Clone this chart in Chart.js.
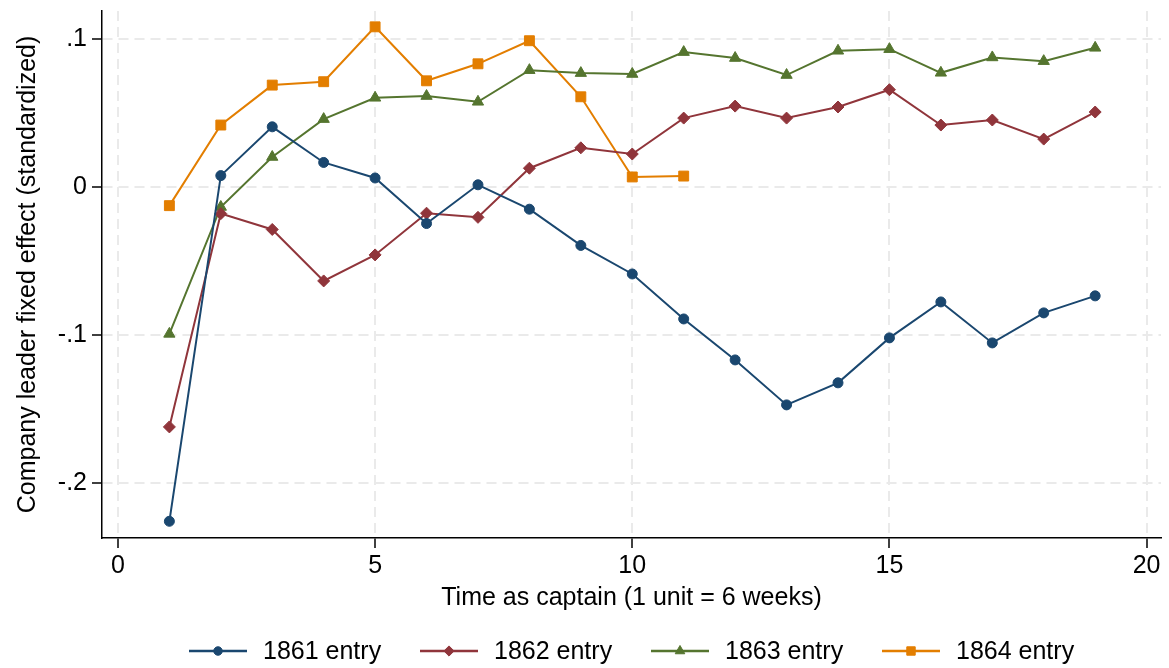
<!DOCTYPE html>
<html>
<head>
<meta charset="utf-8">
<script src="https://cdn.jsdelivr.net/npm/chart.js@4/dist/chart.umd.min.js"></script>
<style>
  html, body { margin: 0; padding: 0; background: #fff; }
  #wrap { width: 1169px; height: 668px; }
</style>
</head>
<body>
<div id="wrap"><canvas id="myChart" width="1169" height="668"></canvas></div>
<script>
// time as captain (1 unit = 6 weeks)
const periods = [1, 2, 3, 4, 5, 6, 7, 8, 9, 10, 11, 12, 13, 14, 15, 16, 17, 18, 19]
const periods1864 = [1, 2, 3, 4, 5, 6, 7, 8, 9, 10, 11]

const entry1861 = [-0.226, 0.0077, 0.0407, 0.0166, 0.0061, -0.0247, 0.0015, -0.015, -0.0395, -0.0588, -0.0892, -0.1169, -0.1473, -0.1324, -0.102, -0.0777, -0.1054, -0.0851, -0.0736]
const entry1862 = [-0.1622, -0.018, -0.0287, -0.0635, -0.0459, -0.0177, -0.0205, 0.0127, 0.0265, 0.0223, 0.0466, 0.0547, 0.0466, 0.0541, 0.0658, 0.0419, 0.0453, 0.0324, 0.0507]
const entry1863 = [-0.0993, -0.0135, 0.0203, 0.0459, 0.0603, 0.0615, 0.0576, 0.079, 0.077, 0.0764, 0.0912, 0.0872, 0.0757, 0.0921, 0.0932, 0.0772, 0.0876, 0.0851, 0.0941]
const entry1864 = [-0.0126, 0.0419, 0.0689, 0.0712, 0.1083, 0.0718, 0.0833, 0.0989, 0.061, 0.0068, 0.0074]

const seriesNames = ["1861 entry", "1862 entry", "1863 entry", "1864 entry"]

const xTicks = [0, 5, 10, 15, 20]
const xTickLabels = ["0", "5", "10", "15", "20"]
const yTicks = [-0.2, -0.1, 0, 0.1]
const yTickLabels = ["-.2", "-.1", "0", ".1"]

const FONT = "'Liberation Sans', Arial, sans-serif"

function pts(xs, ys) {
  return xs.map((x, i) => ({x: x, y: ys[i]}))
}

function series(label, xs, ys, color, style, radius) {
  return {
    label: label,
    data: pts(xs, ys),
    borderColor: color,
    backgroundColor: color,
    borderWidth: 2,
    pointStyle: style,
    pointRadius: radius,
    pointHoverRadius: radius,
    pointBorderWidth: 1,
    pointBackgroundColor: color,
    pointBorderColor: color,
    tension: 0,
    fill: false
  }
}

// legend drawn underneath the x axis title, stata style (line + marker)
const stataLegend = {
  id: "stataLegend",
  afterDraw(chart) {
    const ctx = chart.ctx
    const y = 651
    ctx.save()
    chart.data.datasets.forEach((ds, i) => {
      const x0 = 189 + i * 231
      ctx.strokeStyle = ds.borderColor
      ctx.fillStyle = ds.borderColor
      ctx.lineWidth = 2.5
      ctx.beginPath()
      ctx.moveTo(x0, y)
      ctx.lineTo(x0 + 58, y)
      ctx.stroke()
      ctx.lineWidth = 1
      Chart.helpers.drawPoint(ctx, {pointStyle: ds.pointStyle, radius: ds.pointRadius * 0.85, rotation: 0, borderWidth: 1}, x0 + 29, y)
      ctx.fillStyle = "#000"
      ctx.font = "25px " + FONT
      ctx.textBaseline = "middle"
      ctx.textAlign = "left"
      ctx.fillText(ds.label, x0 + 74, y + 1)
    })
    ctx.restore()
  }
}

const gridOpts = {
  color: "#eaeaea",
  lineWidth: 2,
  tickColor: "#000",
  tickWidth: 1.5,
  tickBorderDash: [],
  tickLength: 10
}
const borderOpts = {display: true, color: "#000", width: 1.5, dash: [10, 6]}

new Chart("myChart", {
  type: "line",
  data: {
    datasets: [
      series(seriesNames[0], periods, entry1861, "#1a476f", "circle", 5),
      series(seriesNames[1], periods, entry1862, "#90353b", "rectRot", 6),
      series(seriesNames[2], periods, entry1863, "#55752f", "triangle", 6.5),
      series(seriesNames[3], periods1864, entry1864, "#e37e00", "rect", 7)
    ]
  },
  plugins: [stataLegend],
  options: {
    responsive: false,
    animation: false,
    layout: {padding: {top: 11, right: 6, left: 0, bottom: 48}},
    plugins: {
      legend: {display: false},
      tooltip: {enabled: false}
    },
    scales: {
      x: {
        type: "linear",
        min: -0.31,
        max: 20.28,
        afterFit: s => { s.height = 82; s.paddingLeft = 0; s.paddingRight = 0 },
        afterBuildTicks: s => { s.ticks = xTicks.map(v => ({value: v})) },
        ticks: {
          color: "#000",
          font: {family: FONT, size: 25},
          padding: 3,
          maxRotation: 0,
          callback: v => xTickLabels[xTicks.indexOf(v)]
        },
        grid: gridOpts,
        border: borderOpts,
        title: {
          display: true,
          text: "Time as captain (1 unit = 6 weeks)",
          color: "#000",
          font: {family: FONT, size: 25},
          padding: {top: 0, bottom: 7}
        }
      },
      y: {
        type: "linear",
        min: -0.2373,
        max: 0.119,
        afterFit: s => { s.width = 102; s.paddingTop = 0; s.paddingBottom = 0 },
        afterBuildTicks: s => { s.ticks = yTicks.map(v => ({value: v})) },
        ticks: {
          color: "#000",
          font: {family: FONT, size: 25},
          padding: 5,
          callback: v => yTickLabels[yTicks.indexOf(v)]
        },
        grid: gridOpts,
        border: borderOpts,
        title: {
          display: true,
          text: "Company leader fixed effect (standardized)",
          color: "#000",
          font: {family: FONT, size: 25},
          padding: {top: 13, bottom: 0}
        }
      }
    }
  }
});
</script>
</body>
</html>
